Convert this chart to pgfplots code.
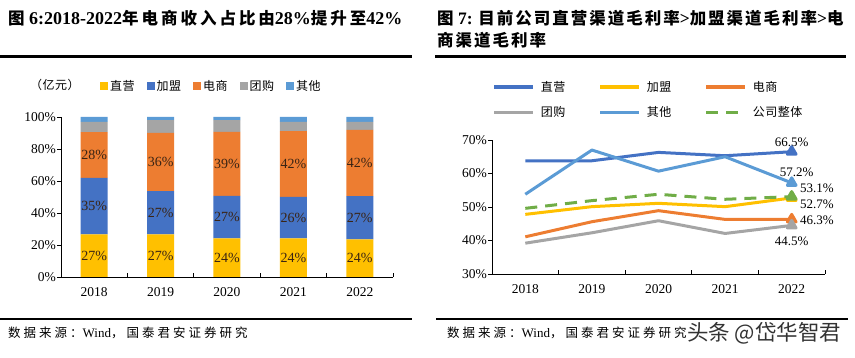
\documentclass[border=0pt]{standalone}
\usepackage{fontspec}
\usepackage{pgfplots}
\pgfplotsset{compat=1.18}
\setmainfont{Liberation Serif}
\newfontfamily\cjkt{Noto Sans CJK SC}[LetterSpace=12]
\newfontfamily\cjktL{Noto Sans CJK SC}[LetterSpace=18]
\newfontfamily\cjkl{Noto Sans CJK SC}[LetterSpace=4]
\newfontfamily\cjks{Noto Sans CJK SC}[LetterSpace=24]
\newfontfamily\cjkw{Noto Sans CJK SC}
\definecolor{cY}{HTML}{FFC000}
\definecolor{cB}{HTML}{4472C4}
\definecolor{cO}{HTML}{ED7D31}
\definecolor{cG}{HTML}{A5A5A5}
\definecolor{cL}{HTML}{5B9BD5}
\definecolor{cGr}{HTML}{70AD47}
\definecolor{lab}{HTML}{3A2414}
\newcommand\cjT[1]{{\cjkt\bfseries\fontsize{16.5}{18}\selectfont #1}}
\newcommand\cjTL[1]{{\cjktL\bfseries\fontsize{16.5}{18}\selectfont #1}}
\newcommand\cjS[1]{{\cjks\fontsize{12.5}{14}\selectfont #1}}
\tikzset{vlab/.style={font=\fontsize{13}{14}\selectfont, text=black, inner sep=1pt}}
\pgfplotsset{
  base/.style={
    scale only axis,
    axis x line*=bottom, axis y line*=left,
    xmin=-0.5, xmax=4.5,
    xtick={-0.5,0.5,1.5,2.5,3.5,4.5},
    x tick label as interval,
    xticklabels={2018,2019,2020,2021,2022},
    tick align=inside,
    major tick length=4pt,
    ytick style={xshift=-4pt},
    /pgf/number format/assume math mode=true,
    tick label style={font=\fontsize{13.5}{14}\selectfont, black},
    xticklabel style={yshift=-7pt},
    yticklabel style={xshift=-1.5pt},
    yticklabel={\pgfmathprintnumber{\tick}\%},
    axis line style={black, line width=0.8pt},
    tick style={black, line width=0.8pt},
    clip=false,
  },
  sq legend/.style={legend image code/.code={\fill[##1] (0pt,-4pt) rectangle (8pt,4pt);}},
}
\begin{document}
\begin{tikzpicture}[x=1pt,y=1pt]
\useasboundingbox (0,0) rectangle (855,358);
% titles and rules
\node[anchor=west, inner sep=0pt, font=\bfseries\fontsize{18}{20}\selectfont] at (8,340)
  {\cjTL{图} 6:2018-2022\cjTL{年电商收入占比由}28\%\cjTL{提升至}42\%};
\node[anchor=west, inner sep=0pt, font=\bfseries\fontsize{17.5}{20}\selectfont] at (437,340)
  {\cjT{图} 7: \cjT{目前公司直营渠道毛利率}>\cjT{加盟渠道毛利率}>\cjT{电}};
\node[anchor=west, inner sep=0pt, font=\bfseries\fontsize{17.5}{20}\selectfont] at (437,318)
  {\cjT{商渠道毛利率}};
\draw[line width=3pt] (0,301) -- (412,301);
\draw[line width=3pt] (435,301) -- (846,301);
\draw[line width=2.3pt] (0,39) -- (412,39);
\draw[line width=2.3pt] (436,39) -- (848,39);
\node[anchor=west, inner sep=0pt, font=\fontsize{13}{14}\selectfont] at (8,25) {\cjS{数据来源：}Wind\cjS{，国泰君安证券研究}};
\node[anchor=west, inner sep=0pt, font=\fontsize{13}{14}\selectfont] at (447,25) {\cjS{数据来源：}Wind\cjS{，国泰君安证券研究}};
\node[anchor=west, inner sep=0pt, text=black!80] at (687,25) {\cjkw\fontsize{21.5}{22}\selectfont 头条 @岱华智君};
\node[anchor=west, inner sep=0pt] at (30,273) {\cjkl\fontsize{12}{12}\selectfont （亿元）};

% left chart
\begin{axis}[base, at={(61pt,81pt)}, anchor=south west, width=332pt, height=160pt,
  ymin=0, ymax=100, ytick={0,20,...,100},
  ybar stacked, bar width=27pt,
  legend columns=-1,
  legend style={at={(axis description cs:0.1175,1.244)}, anchor=north west, draw=none, fill=none,
    inner sep=0pt, font=\cjkl\fontsize{12}{12}\selectfont,
    /tikz/every even column/.style={column sep=10pt}},
]
\addplot[fill=cY, draw=none, sq legend] coordinates {(0,26.7) (1,26.7) (2,24.2) (3,24.2) (4,23.5)};
\addplot[fill=cB, draw=none, sq legend] coordinates {(0,35.2) (1,27.0) (2,26.5) (3,25.8) (4,27.0)};
\addplot[fill=cO, draw=none, sq legend] coordinates {(0,28.6) (1,36.3) (2,40.0) (3,41.2) (4,41.5)};
\addplot[fill=cG, draw=none, sq legend] coordinates {(0,6.5) (1,8.0) (2,7.3) (3,5.8) (4,5.0)};
\addplot[fill=cL, draw=none, sq legend] coordinates {(0,3.0) (1,2.0) (2,2.0) (3,3.0) (4,3.0)};
\legend{直营,加盟,电商,团购,其他}
\end{axis}
\begin{axis}[at={(61pt,81pt)}, anchor=south west, scale only axis, width=332pt, height=160pt,
  xmin=-0.5, xmax=4.5, ymin=0, ymax=100, hide axis, clip=false]
\addplot[draw=none, nodes near coords, point meta=explicit symbolic,
  nodes near coords style={anchor=center, font=\fontsize{14}{14}\selectfont, text=lab}]
  coordinates {(0,13.35) [27\%] (1,13.35) [27\%] (2,12.1) [24\%] (3,12.1) [24\%] (4,11.75) [24\%]
               (0,44.3) [35\%] (1,40.2) [27\%] (2,37.45) [27\%] (3,37.1) [26\%] (4,37.0) [27\%]
               (0,76.2) [28\%] (1,71.85) [36\%] (2,70.7) [39\%] (3,70.6) [42\%] (4,71.25) [42\%]};
\end{axis}

% right chart
\begin{axis}[base, at={(492pt,84pt)}, anchor=south west, width=333pt, height=134pt,
  ymin=30, ymax=70, ytick={30,40,...,70},
  legend columns=3, legend cell align=left,
  legend style={at={(axis description cs:0,1.455)}, anchor=north west, draw=none, fill=none,
    inner sep=0pt, font=\cjkl\fontsize{12}{12}\selectfont, row sep=10pt,
    /tikz/every odd column/.style={column sep=4pt},
    /tikz/every even column/.style={column sep=31pt}},
  legend image code/.code={\draw[#1, line width=3.6pt] (0pt,0pt) -- (39pt,0pt);},
  every axis plot/.append style={line width=3pt, line join=round, mark=triangle*, mark indices={5}, mark size=5pt, mark options={solid}},
]
\addplot[cB] coordinates {(0,63.8) (1,63.8) (2,66.3) (3,65.3) (4,66.5)} node[vlab, pos=1, anchor=south, yshift=3pt] {66.5\%};
\addplot[cY] coordinates {(0,47.8) (1,50.1) (2,51.1) (3,50.1) (4,52.7)} node[vlab, pos=1, anchor=west, xshift=6pt, yshift=-6pt] {52.7\%};
\addplot[cO] coordinates {(0,41.1) (1,45.6) (2,48.9) (3,46.3) (4,46.3)} node[vlab, pos=1, anchor=west, xshift=6pt, yshift=-1pt] {46.3\%};
\addplot[cG] coordinates {(0,39.2) (1,42.3) (2,45.9) (3,42.1) (4,44.5)} node[vlab, pos=1, anchor=north, yshift=-9pt] {44.5\%};
\addplot[cL] coordinates {(0,53.8) (1,67.0) (2,60.7) (3,65.0) (4,57.2)} node[vlab, pos=1, anchor=south, xshift=5pt, yshift=4pt] {57.2\%};
\addplot[cGr, dash pattern=on 12pt off 8pt] coordinates {(0,49.6) (1,51.9) (2,53.8) (3,52.3) (4,53.1)} node[vlab, pos=1, anchor=west, xshift=6pt, yshift=8pt] {53.1\%};
\legend{直营,加盟,电商,团购,其他,公司整体}
\end{axis}
\end{tikzpicture}
\end{document}
